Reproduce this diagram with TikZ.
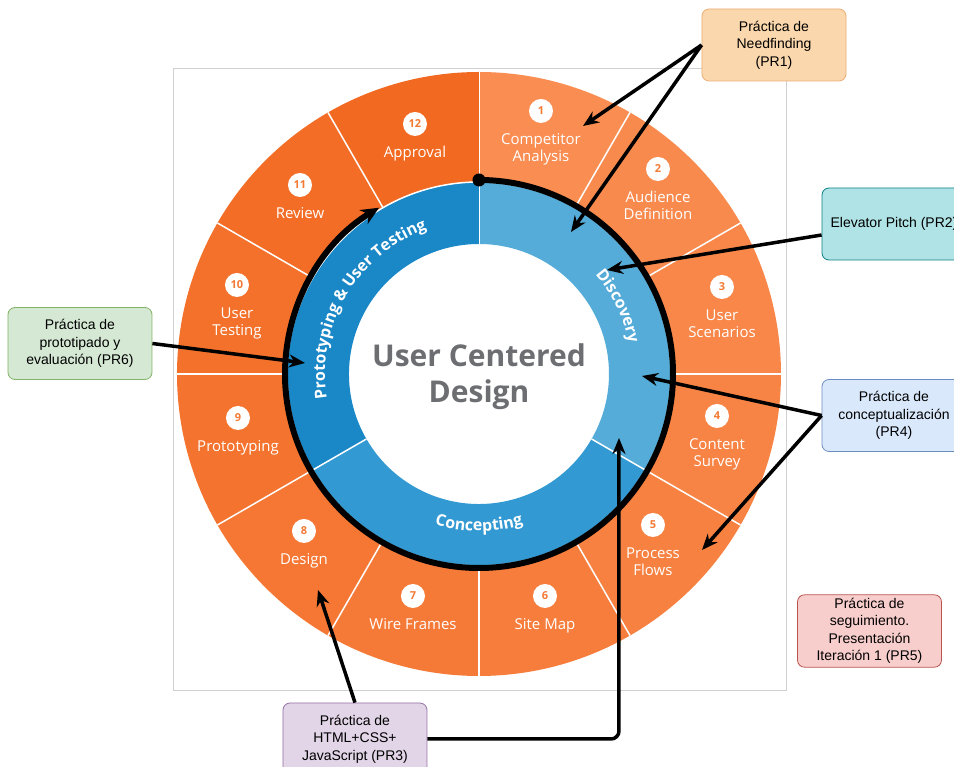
\documentclass[tikz,border=0pt]{standalone}
\usepackage{fontspec}
\setmainfont{Liberation Sans}
\newfontfamily\wheelfont{Open Sans}
\usetikzlibrary{positioning}
\usetikzlibrary{arrows.meta}
\usetikzlibrary{decorations.text}

\definecolor{segLight}{HTML}{F98D52}
\definecolor{segDark}{HTML}{F26A21}
\definecolor{badgeText}{HTML}{F47A34}
\definecolor{discBlue}{HTML}{55ACD9}
\definecolor{concBlue}{HTML}{3399D2}
\definecolor{protBlue}{HTML}{1A87C7}
\definecolor{titleGray}{HTML}{6D6E71}
\definecolor{frameGray}{HTML}{D0D0D0}
\definecolor{needFill}{HTML}{FAD7AC}
\definecolor{needLine}{HTML}{EBAE74}
\definecolor{pitchFill}{HTML}{B0E3E6}
\definecolor{pitchLine}{HTML}{0E8088}
\definecolor{protoFill}{HTML}{D5E8D4}
\definecolor{protoLine}{HTML}{82B366}
\definecolor{concFill}{HTML}{DAE8FC}
\definecolor{concLine}{HTML}{6C8EBF}
\definecolor{followFill}{HTML}{F8CECC}
\definecolor{followLine}{HTML}{B85450}
\definecolor{htmlFill}{HTML}{E1D5E7}
\definecolor{htmlLine}{HTML}{9673A6}

\tikzset{
  badge/.style={circle, fill=white, inner sep=0pt, minimum size=24pt,
                text=badgeText, font=\wheelfont\bfseries\fontsize{11}{11}\selectfont},
  seglabel/.style={text=white, align=center, inner sep=0pt,
                   font=\wheelfont\fontsize{15}{17}\selectfont},
  prbox/.style={draw, rounded corners=7pt, minimum width=144pt, minimum height=72pt,
                align=center, line width=0.8pt, font=\fontsize{14}{17.5}\selectfont},
  ringtext/.style={decorate, decoration={text along path, text align=center,
                   text color=white, text={|\wheelfont\bfseries\fontsize{16}{16}\selectfont|#1}}}
}

\begin{document}
\begin{tikzpicture}[x=1pt, y=1pt]
\useasboundingbox (-479, -393) rectangle (475, 374);

\begin{scope}
  \draw[frameGray, line width=0.8pt] (-306, 306) rectangle (307, -316);
\end{scope}

% outer wheel, twelve steps
\begin{scope}
  \foreach \k [evaluate=\k as \mix using int((\k-1)*100/11),
               evaluate=\k as \a using 120-30*\k] in {1,...,12} {
    \fill[segDark!\mix!segLight] (\a:192) arc[start angle=\a, end angle=\a-30, radius=192]
      -- (\a-30:302) arc[start angle=\a-30, end angle=\a, radius=302] -- cycle;
    \draw[white, line width=1.5pt] (\a:192) -- (\a:302);
  }
\end{scope}

% inner ring, three phases
\begin{scope}
  \foreach \s/\e/\c in {90/-30/discBlue, -30/-150/concBlue, -150/-270/protBlue} {
    \fill[\c] (\s:130) arc[start angle=\s, end angle=\e, radius=130]
      -- (\e:192) arc[start angle=\e, end angle=\s, radius=192] -- cycle;
    \draw[white, line width=1.5pt] (\s:130) -- (\s:192);
  }
  \draw[white, line width=1.5pt] (0, 0) circle[radius=192];

  \path[ringtext={Prototyping {\&} User Testing}] (200:154) arc[start angle=200, end angle=99, radius=154];
  \path[ringtext={Discovery}] (76:153) arc[start angle=76, end angle=-24, radius=153];
  \path[ringtext={Concepting}] (220:157) arc[start angle=220, end angle=320, radius=157];

  \draw[line width=6pt, -{Stealth[length=18pt, width=16pt]}]
    (90:194) arc[start angle=90, end angle=-239, radius=194];
  \fill (90:194) circle[radius=6.5];
\end{scope}

\node[font=\wheelfont\bfseries\fontsize{30}{36}\selectfont, text=titleGray, align=center]
  (title) at (0, -3) {User Centered\\Design};

% step labels
\foreach \k/\x/\y/\txt in {1/62/263/{Competitor\\Analysis}, 2/179/205/{Audience\\Definition},
    3/243/87/{User\\Scenarios}, 4/238/-42/{Content\\Survey}, 5/174/-151/{Process\\Flows},
    6/66/-222/{Site Map}, 7/-66/-222/{Wire Frames}, 8/-175/-157/{Design},
    9/-241/-44/{Prototyping}, 10/-242/89/{User\\Testing}, 11/-179/189/{Review},
    12/-64/250/{Approval}} {
  \node[badge] (b\k) at (\x, \y) {\k};
  \node[seglabel, below=10pt of b\k] (l\k) {\txt};
}

% practice boxes
\begin{scope}
  \node[prbox, fill=needFill, draw=needLine] (needfinding) at (295, 329) {Práctica de\\Needfinding\\(PR1)};
  \node[prbox, fill=pitchFill, draw=pitchLine] (pitch) at (415, 150) {Elevator Pitch (PR2)};
  \node[prbox, fill=protoFill, draw=protoLine] (prototipado) at (-399, 30.5) {Práctica de\\prototipado y\\evaluación (PR6)};
  \node[prbox, fill=concFill, draw=concLine] (concept) at (415, -41.5) {Práctica de\\conceptualización\\(PR4)};
  \node[prbox, fill=followFill, draw=followLine] (seguimiento) at (390.5, -257) {Práctica de\\seguimiento.\\Presentación\\Iteración 1 (PR5)};
  \node[prbox, fill=htmlFill, draw=htmlLine] (html) at (-124, -365) {Práctica de\\HTML+CSS+\\JavaScript (PR3)};
\end{scope}

\coordinate (tCompetitor) at (104, 248);
\coordinate (tDiscTop) at (92, 142);
\coordinate (tDiscMid) at (128, 104);
\coordinate (tDiscRight) at (163, -2);
\coordinate (tProcess) at (223, -176);
\coordinate (tProto) at (-174, 11);
\coordinate (tDesign) at (-161, -216);
\coordinate (tDiscLow) at (140, -64);

\begin{scope}[>={Stealth[length=16pt, width=13pt]},
              every edge/.style={draw=black, line width=3.5pt}]
    \path [->] (needfinding.west) edge (tCompetitor);
    \path [->] (needfinding.west) edge (tDiscTop);
    \path [->] ([yshift=-11pt]pitch.west) edge (tDiscMid);
    \path [->] (concept.west) edge (tDiscRight);
    \path [->] (concept.west) edge (tProcess);
    \path [->] (prototipado.east) edge (tProto);
    \path [->] (html.north) edge (tDesign);
    \draw [->, line width=3.5pt, rounded corners=8pt] (html.east) -| (tDiscLow);
\end{scope}
\end{tikzpicture}
\end{document}
